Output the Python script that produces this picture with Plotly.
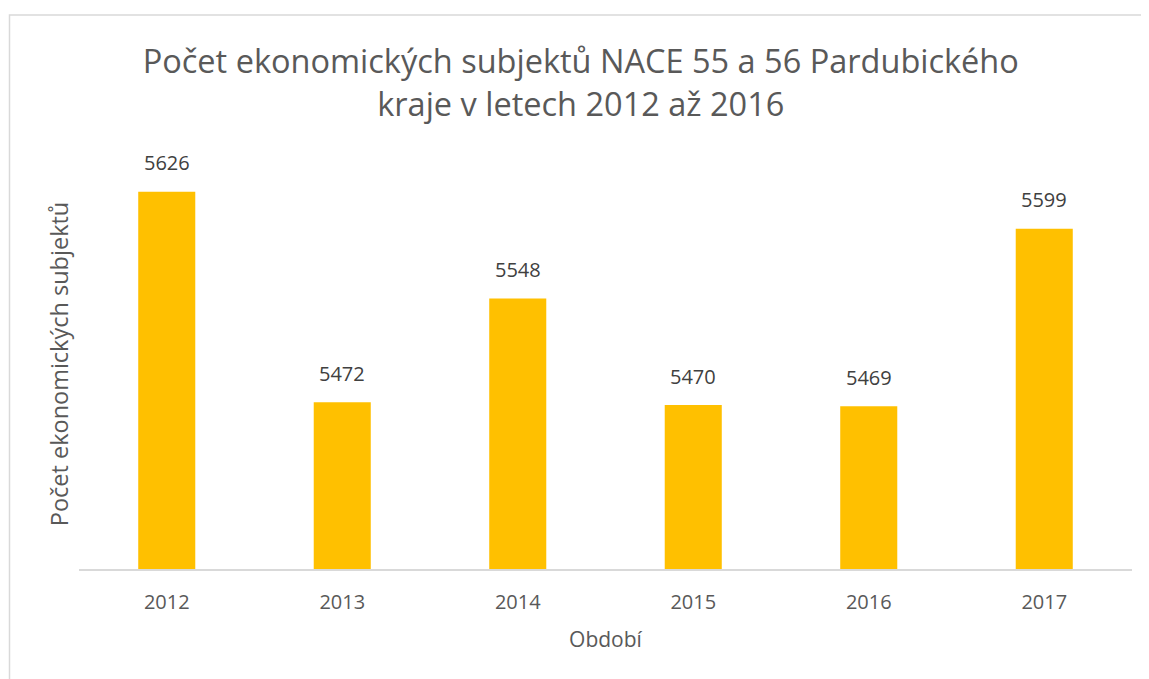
import plotly.graph_objects as go

years = ["2012", "2013", "2014", "2015", "2016", "2017"]
counts = [5626, 5472, 5548, 5470, 5469, 5599]
title_text = "Počet ekonomických subjektů NACE 55 a 56 Pardubického<br>kraje v letech 2012 až 2016"
y_title = "Počet ekonomických subjektů"
x_title = "Období"

FONT = "Open Sans"

fig = go.Figure()
fig.add_trace(go.Bar(
    x=years, y=counts,
    marker=dict(color="#FFC000", line=dict(width=0)),
    cliponaxis=False,
))

for i, v in enumerate(counts):
    fig.add_annotation(x=i, y=v, xref="x", yref="y", text=str(v), showarrow=False,
                       xanchor="center", yanchor="middle", yshift=29,
                       font=dict(family=FONT, size=20, color="#404040"))

fig.update_layout(
    width=1141, height=671,
    margin=dict(l=71, r=17, t=151, b=110),
    paper_bgcolor="white", plot_bgcolor="white",
    bargap=0.675,
    showlegend=False,
    title=dict(text=title_text, x=0.502, xanchor="center", y=0.9025, yanchor="middle",
               font=dict(family=FONT, size=32.5, color="#595959")),
    xaxis=dict(
        type="category", range=[-0.5, len(years) - 0.5], autorange=False,
        showline=True, linecolor="#d9d9d9", linewidth=1.5,
        ticks="outside", ticklen=14, tickcolor="rgba(0,0,0,0)", showgrid=False,
        tickfont=dict(family=FONT, size=20, color="#595959"),
        title=dict(text=x_title, font=dict(family=FONT, size=21, color="#595959"), standoff=19),
    ),
    yaxis=dict(
        range=[5350, 5650], autorange=False, showticklabels=False, showgrid=False, zeroline=False,
        showline=False, ticks="",
        title=dict(text=y_title, font=dict(family=FONT, size=23.5, color="#595959"), standoff=2),
    ),
    shapes=[dict(type="rect", xref="paper", yref="paper",
                 x0=-0.066, x1=1.2, y0=-0.6, y1=1.351,
                 line=dict(color="#d9d9d9", width=1.5), fillcolor="rgba(0,0,0,0)")],
)

fig.write_html("out.html", config={"displayModeBar": False})
